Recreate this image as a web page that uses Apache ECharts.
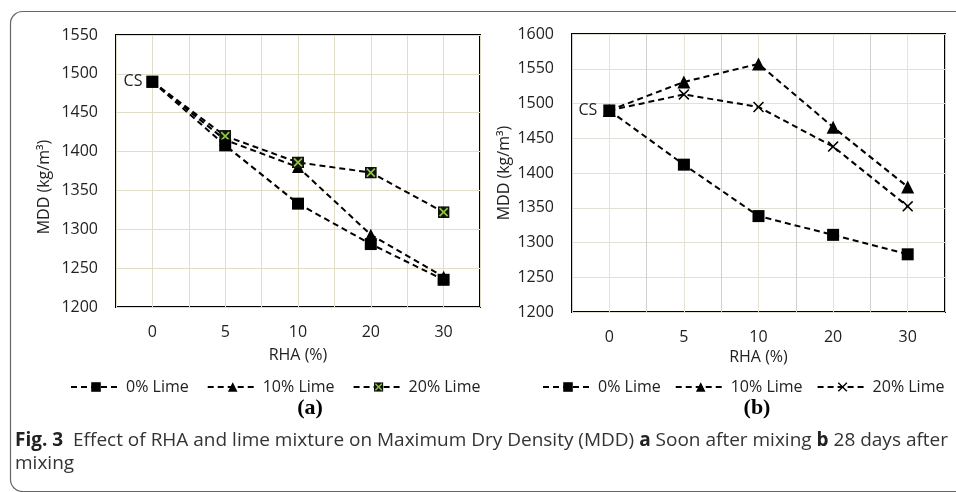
<!DOCTYPE html>
<html>
<head>
<meta charset="utf-8">
<script src="https://cdn.jsdelivr.net/npm/echarts@6/dist/echarts.min.js"></script>
<style>
  html, body { margin: 0; padding: 0; background: #fff; }
  #main { width: 956px; height: 492px; }
</style>
</head>
<body>
<div id="main"></div>
<script>
// RHA content (%) categories, shared by both panels
var rha = ['0', '5', '10', '20', '30'];

// (a) soon after mixing, MDD kg/m3
var a_lime0 = [1490, 1408, 1333, 1281, 1235];
var a_lime10 = [1490, 1415, 1380, 1293, 1239];
var a_lime20 = [1490, 1420, 1386, 1373, 1322];

// (b) 28 days after mixing
var b_lime0 = [1490, 1412, 1338, 1311, 1283];
var b_lime10 = [1490, 1531, 1557, 1466, 1380];
var b_lime20 = [1490, 1513, 1495, 1438, 1352];

var legendNames = { a0: '0% Lime', a10: '10% Lime', a20: '20% Lime', b0: '0% Lime', b10: '10% Lime', b20: '20% Lime' };

var font = "'Open Sans', 'Liberation Sans', sans-serif";
var txt = '#222';

var boxX = "image://data:image/svg+xml;utf8," + encodeURIComponent(
  "<svg xmlns='http://www.w3.org/2000/svg' width='24' height='24'>" +
  "<rect x='0' y='0' width='24' height='24' fill='#111'/>" +
  "<path d='M4,4L20,20M20,4L4,20' stroke='#8cc63f' stroke-width='3.4'/></svg>");
var cross = 'path://M1,0L5,4L9,0L10,1L6,5L10,9L9,10L5,6L1,10L0,9L4,5L0,1Z';

function pts(arr) {
  return arr.map(function (v, i) { return [i, v]; });
}

function line(name, arr, idx, symbol, size, csDist) {
  var data = pts(arr);
  if (csDist) {
    data[0] = { value: data[0], label: { show: true, formatter: 'CS', position: 'left', distance: csDist, color: txt, fontSize: 16, fontFamily: font } };
  }
  return {
    name: name,
    type: 'line',
    xAxisIndex: idx,
    yAxisIndex: idx,
    data: data,
    symbol: symbol,
    symbolSize: size,
    showAllSymbol: true,
    itemStyle: { color: '#000', borderWidth: 0 },
    lineStyle: { color: '#000', width: 2, type: [6, 4] },
    z: name.indexOf('0') === 1 ? 3 : 2,
    animation: false
  };
}

function xAx(idx, gridColors, gap) {
  return {
    gridIndex: idx,
    type: 'value',
    min: -0.5,
    max: 4.5,
    interval: 0.5,
    name: 'RHA (%)',
    nameLocation: 'middle',
    nameGap: gap,
    nameTextStyle: { color: txt, fontSize: 16, fontFamily: font },
    axisLine: { show: false },
    axisTick: { show: false },
    axisLabel: {
      margin: 17, color: txt, fontSize: 16, fontFamily: font,
      showMinLabel: true, showMaxLabel: true,
      formatter: function (v) {
        var k = Math.round(v * 2) / 2;
        return (Number.isInteger(k) && rha[k] != null) ? rha[k] : '';
      }
    },
    splitLine: { show: true, lineStyle: { color: gridColors, width: 1 } }
  };
}

function yAx(idx, max, gap, pad, hColor) {
  return {
    gridIndex: idx,
    type: 'value',
    min: 1200,
    max: max,
    interval: 50,
    name: 'MDD (kg/m³)',
    nameLocation: 'middle',
    nameGap: gap,
    nameTextStyle: { color: txt, fontSize: 16, fontFamily: font, padding: pad },
    axisLine: { show: false },
    axisTick: { show: false },
    axisLabel: { margin: 18, color: txt, fontSize: 16, fontFamily: font, formatter: function (v) { return String(v); } },
    splitLine: { show: true, lineStyle: { color: hColor, width: 1 } }
  };
}

var chart = echarts.init(document.getElementById('main'));
chart.setOption({
  backgroundColor: '#fff',
  animation: false,
  grid: [
    { left: 116, top: 35, width: 364, height: 272, show: true, borderColor: '#000', borderWidth: 2, backgroundColor: 'transparent' },
    { left: 572, top: 34, width: 373, height: 278, show: true, borderColor: '#000', borderWidth: 2, backgroundColor: 'transparent' }
  ],
  xAxis: [
    xAx(0, ['#e2ddc6'], 40),
    xAx(1, ['#cfcfcf', '#e8e4d2'], 31)
  ],
  yAxis: [
    yAx(0, 1550, 64, [0, 32, 0, 0], '#e2ddc6'),
    yAx(1, 1600, 60, [0, 0, 0, 0], '#e2e0d6')
  ],
  legend: [
    {
      data: ['a0', 'a10', 'a20'], left: 65, top: 374, itemWidth: 50, itemHeight: 12, itemGap: 18,
      formatter: function (n) { return legendNames[n]; },
      textStyle: { color: txt, fontSize: 16, fontFamily: font }, selectedMode: false
    },
    {
      data: ['b0', 'b10', 'b20'], left: 537, top: 374, itemWidth: 50, itemHeight: 12, itemGap: 14,
      formatter: function (n) { return legendNames[n]; },
      textStyle: { color: txt, fontSize: 16, fontFamily: font }, selectedMode: false
    }
  ],
  series: [
    line('a0', a_lime0, 0, 'rect', 12),
    line('a10', a_lime10, 0, 'triangle', 12),
    line('a20', a_lime20, 0, boxX, 12, 4),
    line('b0', b_lime0, 1, 'rect', 12, 6),
    line('b10', b_lime10, 1, 'triangle', 13),
    line('b20', b_lime20, 1, cross, 11)
  ],
  graphic: [
    { type: 'rect', left: 8, top: 9, shape: { width: 1000, height: 480, r: 12 }, style: { fill: 'none', stroke: '#666', lineWidth: 1.2 }, silent: true, z: 100 },
    { type: 'text', x: 310, y: 408, style: { text: '(a)', font: "bold 22px 'Liberation Serif', 'DejaVu Serif', serif", fill: '#000', textAlign: 'center', textVerticalAlign: 'middle' } },
    { type: 'text', x: 757, y: 408, style: { text: '(b)', font: "bold 22px 'Liberation Serif', 'DejaVu Serif', serif", fill: '#000', textAlign: 'center', textVerticalAlign: 'middle' } },
    {
      type: 'text', x: 15, y: 441,
      style: {
        text: '{b|Fig. 3}  Effect of RHA and lime mixture on Maximum Dry Density (MDD) {b|a} Soon after mixing {b|b} 28 days after',
        font: "19px 'Open Sans', sans-serif", fill: '#333', textVerticalAlign: 'middle',
        rich: { b: { fontWeight: 'bold', fontSize: 19, fontFamily: 'Open Sans', fill: '#222' } }
      }
    },
    { type: 'text', x: 15, y: 464, style: { text: 'mixing', font: "19px 'Open Sans', sans-serif", fill: '#333', textVerticalAlign: 'middle' } }
  ]
});
</script>
</body>
</html>
